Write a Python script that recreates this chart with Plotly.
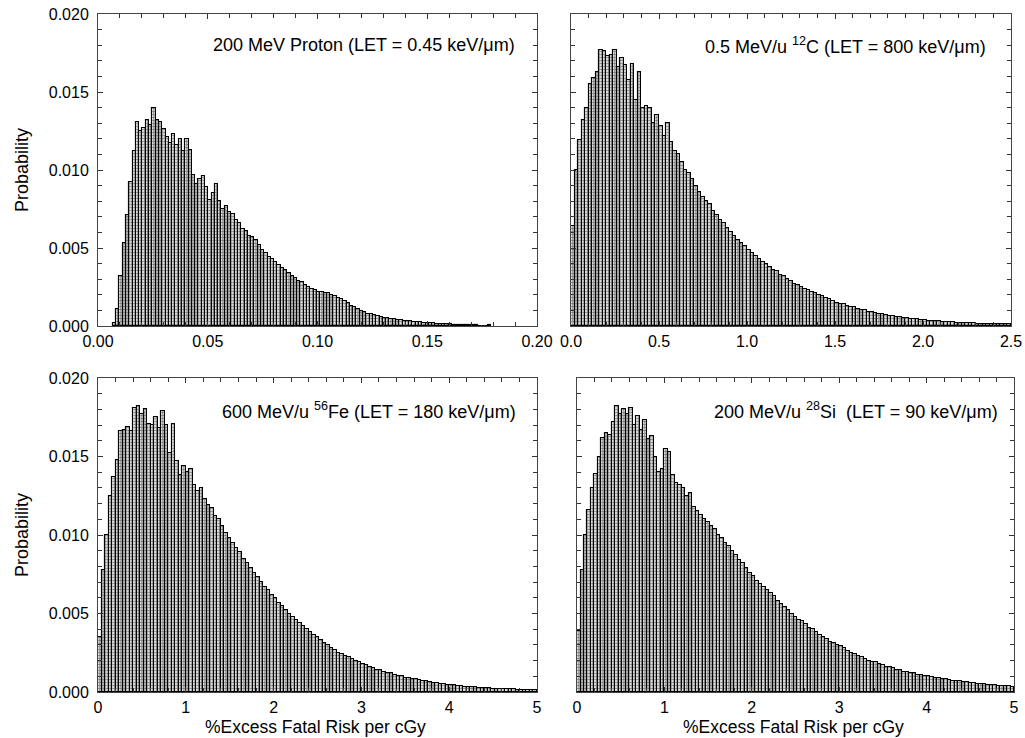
import numpy as np
import plotly.graph_objects as go

# ---------------- data ----------------
# Panel 1: 200 MeV proton, bin width 0.0015, first bin centre 0.0075
proton_start = 0.0075
proton_width = 0.0015
proton_prob = [
    0.0002, 0.0011, 0.0032, 0.0053, 0.0071, 0.0092, 0.0112, 0.0131, 0.0125, 0.0127,
    0.0132, 0.0129, 0.0140, 0.0132, 0.0131, 0.0126, 0.0121, 0.0117, 0.0123, 0.0116,
    0.0120, 0.0112, 0.0120, 0.0113, 0.0097, 0.0091, 0.0094, 0.0096, 0.0089, 0.0081,
    0.0085, 0.0091, 0.0080, 0.0075, 0.0077, 0.0073, 0.0072, 0.0068, 0.0066, 0.0062,
    0.0061, 0.0058, 0.0057, 0.0055, 0.0052, 0.0049, 0.0047, 0.0044, 0.0043, 0.0041,
    0.0039, 0.0037, 0.0036, 0.0034, 0.0032, 0.0031, 0.0029, 0.0028, 0.0026, 0.0025,
    0.0024, 0.0023, 0.0022, 0.0022, 0.0021, 0.0021, 0.0020, 0.0019, 0.0018, 0.0017,
    0.0016, 0.0015, 0.0013, 0.0012, 0.0011, 0.00095, 0.0009, 0.0008, 0.00075, 0.0007,
    0.00062, 0.00058, 0.00053, 0.0005, 0.00046, 0.00042, 0.0004, 0.00038, 0.00035, 0.00032,
    0.0003, 0.00027, 0.00026, 0.00023, 0.00021, 0.0002, 0.00018, 0.00017, 0.00015, 0.00013,
    0.00012, 0.0001, 0.0001, 0.00009, 0.00008, 0.00007, 0.00006, 0.00005, 0.00005, 0.00004,
    0.00004, 0.00003, 0.00003, 0.00003, 0.00004,
]

# Panel 2: 0.5 MeV/u 12C, bin width 0.02, first bin centre 0.01
carbon_start = 0.01
carbon_width = 0.02
carbon_prob = [
    0.0064, 0.0100, 0.0119, 0.0132, 0.0140, 0.0155, 0.0159, 0.0163, 0.0177, 0.0176,
    0.0173, 0.0174, 0.0177, 0.0166, 0.0172, 0.0167, 0.0158, 0.0168, 0.0145, 0.0163,
    0.0140, 0.0141, 0.0140, 0.0130, 0.0135, 0.0128, 0.0122, 0.0130, 0.0118, 0.0112,
    0.0110, 0.0105, 0.0100, 0.0098, 0.0094, 0.0090, 0.0086, 0.0083, 0.0080, 0.0078,
    0.0074, 0.0071, 0.0068, 0.0066, 0.0063, 0.0060, 0.0058, 0.0055, 0.0053, 0.0051,
    0.0049, 0.0047, 0.0045, 0.0043, 0.0041, 0.0040, 0.0038, 0.0036, 0.0035, 0.0033,
    0.0032, 0.0030, 0.0029, 0.0027, 0.0026, 0.0025, 0.0024, 0.0023, 0.0022, 0.0021,
    0.0020, 0.0019, 0.0018, 0.0017, 0.0016, 0.0015, 0.0014, 0.0014, 0.0013, 0.0012,
    0.0012, 0.0011, 0.0010, 0.0010, 0.0009, 0.0009, 0.00085, 0.0008, 0.00075, 0.0007,
    0.00067, 0.00063, 0.0006, 0.00056, 0.00053, 0.0005, 0.00047, 0.00044, 0.00042, 0.0004,
    0.00037, 0.00035, 0.00033, 0.00031, 0.0003, 0.00028, 0.00026, 0.00025, 0.00024, 0.00022,
    0.00021, 0.0002, 0.00019, 0.00018, 0.00017, 0.00016, 0.00015, 0.00014, 0.00013, 0.00013,
    0.00012, 0.00011, 0.00011, 0.0001, 0.0001,
]

# Panel 3: 600 MeV/u 56Fe, bin width 0.04, first bin centre 0.02
iron_start = 0.02
iron_width = 0.04
iron_prob = [
    0.0035, 0.0078, 0.0100, 0.0125, 0.0137, 0.0148, 0.0166, 0.0167, 0.0169, 0.0166,
    0.0181, 0.0182, 0.0177, 0.0180, 0.0171, 0.0170, 0.0175, 0.0168, 0.0179, 0.0170,
    0.0152, 0.0171, 0.0147, 0.0138, 0.0144, 0.0140, 0.0142, 0.0132, 0.0128, 0.0130,
    0.0123, 0.0119, 0.0117, 0.0112, 0.0110, 0.0106, 0.0101, 0.0098, 0.0095, 0.0092,
    0.0089, 0.0085, 0.0082, 0.0079, 0.0076, 0.0073, 0.0070, 0.0067, 0.0065, 0.0062,
    0.0060, 0.0057, 0.0055, 0.0052, 0.0050, 0.0048, 0.0046, 0.0044, 0.0042, 0.0040,
    0.0038, 0.0036, 0.0035, 0.0033, 0.0031, 0.0030, 0.0028, 0.0027, 0.0025, 0.0024,
    0.0023, 0.0022, 0.0021, 0.0020, 0.0019, 0.0018, 0.0017, 0.0016, 0.0015, 0.0014,
    0.0014, 0.0013, 0.0012, 0.0012, 0.0011, 0.0010, 0.0010, 0.0009, 0.0009, 0.00085,
    0.0008, 0.00075, 0.0007, 0.00067, 0.00063, 0.0006, 0.00056, 0.00053, 0.0005, 0.00047,
    0.00044, 0.00042, 0.0004, 0.00037, 0.00035, 0.00033, 0.00031, 0.0003, 0.00028, 0.00026,
    0.00025, 0.00023, 0.00022, 0.00021, 0.0002, 0.00019, 0.00018, 0.00017, 0.00016, 0.00015,
    0.00014, 0.00013, 0.00013, 0.00012, 0.00011,
]

# Panel 4: 200 MeV/u 28Si, bin width 0.04, first bin centre 0.02
silicon_start = 0.02
silicon_width = 0.04
silicon_prob = [
    0.0039, 0.0078, 0.0100, 0.0116, 0.0130, 0.0139, 0.0150, 0.0162, 0.0165, 0.0164,
    0.0172, 0.0182, 0.0177, 0.0180, 0.0177, 0.0181, 0.0170, 0.0176, 0.0167, 0.0173,
    0.0161, 0.0163, 0.0150, 0.0140, 0.0142, 0.0155, 0.0153, 0.0138, 0.0133, 0.0132,
    0.0130, 0.0125, 0.0127, 0.0118, 0.0115, 0.0113, 0.0110, 0.0108, 0.0106, 0.0104,
    0.0100, 0.0098, 0.0095, 0.0093, 0.0090, 0.0087, 0.0084, 0.0082, 0.0079, 0.0076,
    0.0074, 0.0071, 0.0069, 0.0067, 0.0065, 0.0063, 0.0061, 0.0058, 0.0056, 0.0054,
    0.0052, 0.0050, 0.0048, 0.0046, 0.0045, 0.0043, 0.0041, 0.0040, 0.0038, 0.0036,
    0.0035, 0.0034, 0.0032, 0.0031, 0.0030, 0.0029, 0.0028, 0.0026, 0.0025, 0.0024,
    0.0023, 0.0022, 0.0021, 0.0020, 0.0019, 0.0019, 0.0018, 0.0017, 0.0016, 0.0016,
    0.0015, 0.0014, 0.0014, 0.0013, 0.0013, 0.0012, 0.0012, 0.0011, 0.0011, 0.0010,
    0.0010, 0.00095, 0.0009, 0.00087, 0.00083, 0.0008, 0.00076, 0.00073, 0.0007, 0.00067,
    0.00064, 0.00061, 0.00058, 0.00056, 0.00053, 0.00051, 0.00049, 0.00047, 0.00045, 0.00043,
    0.00041, 0.0004, 0.00038, 0.00037, 0.00035,
]

panel_labels = [
    "200 MeV Proton (LET = 0.45 keV/\u03bcm)",
    "0.5 MeV/u <sup>12</sup>C (LET = 800 keV/\u03bcm)",
    "600 MeV/u <sup>56</sup>Fe (LET = 180 keV/\u03bcm)",
    "200 MeV/u <sup>28</sup>Si  (LET = 90 keV/\u03bcm)",
]
y_title = "Probability"
x_title = "%Excess Fatal Risk per cGy"

# ---------------- figure ----------------
W, H = 1025, 738
FONT = "Liberation Sans, Arial, sans-serif"


def px_x(p):
    return p / W


def px_y(p):
    return 1 - p / H


panels = [
    dict(start=proton_start, width=proton_width, vals=proton_prob,
         xd=(98, 537), yd=(14, 326), xr=(0, 0.2), xdt=0.05, xminor=0.01, xfmt=".2f"),
    dict(start=carbon_start, width=carbon_width, vals=carbon_prob,
         xd=(571, 1011), yd=(14, 326), xr=(0, 2.5), xdt=0.5, xminor=0.1, xfmt=".1f"),
    dict(start=iron_start, width=iron_width, vals=iron_prob,
         xd=(98, 537), yd=(378, 692), xr=(0, 5), xdt=1, xminor=0.2, xfmt="d"),
    dict(start=silicon_start, width=silicon_width, vals=silicon_prob,
         xd=(577, 1014), yd=(378, 692), xr=(0, 5), xdt=1, xminor=0.2, xfmt="d"),
]

fig = go.Figure()
layout = dict(
    width=W, height=H, margin=dict(l=0, r=0, t=0, b=0),
    paper_bgcolor="white", plot_bgcolor="white", showlegend=False,
    bargap=0, font=dict(family=FONT, size=16, color="black"),
)

annos = []
for i, p in enumerate(panels):
    n = i + 1
    xs = p["start"] + p["width"] * np.arange(len(p["vals"]))
    fig.add_trace(go.Bar(
        x=xs, y=p["vals"], width=p["width"],
        xaxis=f"x{n}" if n > 1 else "x", yaxis=f"y{n}" if n > 1 else "y",
        marker=dict(
            color="white",
            line=dict(color="black", width=1.1),
            pattern=dict(shape=".", fgcolor="black", bgcolor="white", size=3, solidity=0.6),
        ),
    ))
    xk = "xaxis" if n == 1 else f"xaxis{n}"
    yk = "yaxis" if n == 1 else f"yaxis{n}"
    bottom = i >= 2
    left = i % 2 == 0
    layout[xk] = dict(
        domain=[px_x(p["xd"][0]), px_x(p["xd"][1])],
        anchor="y" if n == 1 else f"y{n}",
        range=list(p["xr"]), dtick=p["xdt"], tick0=0, tickformat=p["xfmt"],
        ticks="inside", ticklen=5, tickcolor="#333333", mirror="allticks",
        showline=True, linecolor="#444444", linewidth=1, showgrid=False, zeroline=False,
        minor=dict(dtick=p["xminor"], ticks="inside", ticklen=4, tickcolor="#333333"),
        tickfont=dict(size=16), ticklabelstandoff=1, automargin=False,
    )
    layout[yk] = dict(
        domain=[px_y(p["yd"][1]), px_y(p["yd"][0])],
        anchor="x" if n == 1 else f"x{n}",
        range=[0, 0.02], dtick=0.005, tick0=0, tickformat=".3f",
        ticks="inside", ticklen=5, tickcolor="#333333", mirror="allticks",
        showline=True, linecolor="#444444", linewidth=1, showgrid=False, zeroline=False,
        minor=dict(dtick=0.001, ticks="inside", ticklen=4, tickcolor="#333333"),
        showticklabels=left, tickfont=dict(size=16), ticklabelstandoff=5,
        automargin=False,
    )
    # axis titles (placed as text because the margins are zero)
    if left:
        annos.append(dict(
            text=y_title, xref="paper", yref="paper", x=px_x(22),
            y=px_y((p["yd"][0] + p["yd"][1]) / 2), textangle=-90,
            xanchor="center", yanchor="middle", showarrow=False,
            font=dict(size=18, family=FONT, color="black"),
        ))
    if bottom:
        annos.append(dict(
            text=x_title, xref="paper", yref="paper",
            x=px_x((p["xd"][0] + p["xd"][1]) / 2 - 2), y=px_y(727),
            xanchor="center", yanchor="middle", showarrow=False,
            font=dict(size=17.5, family=FONT, color="black"),
        ))

label_pos = [(517, 45), (988, 45), (518, 410), (1000, 410)]
for text, (ax, ay) in zip(panel_labels, label_pos):
    annos.append(dict(
        text=text, xref="paper", yref="paper", x=px_x(ax), y=px_y(ay),
        xanchor="right", yanchor="middle", showarrow=False,
        font=dict(size=18, family=FONT, color="black"),
    ))
layout["annotations"] = annos

fig.update_layout(**layout)
fig.write_html(
    "out.html",
    config={"displayModeBar": False},
    post_script="document.body.style.margin='0';document.body.style.overflow='hidden';",
)
